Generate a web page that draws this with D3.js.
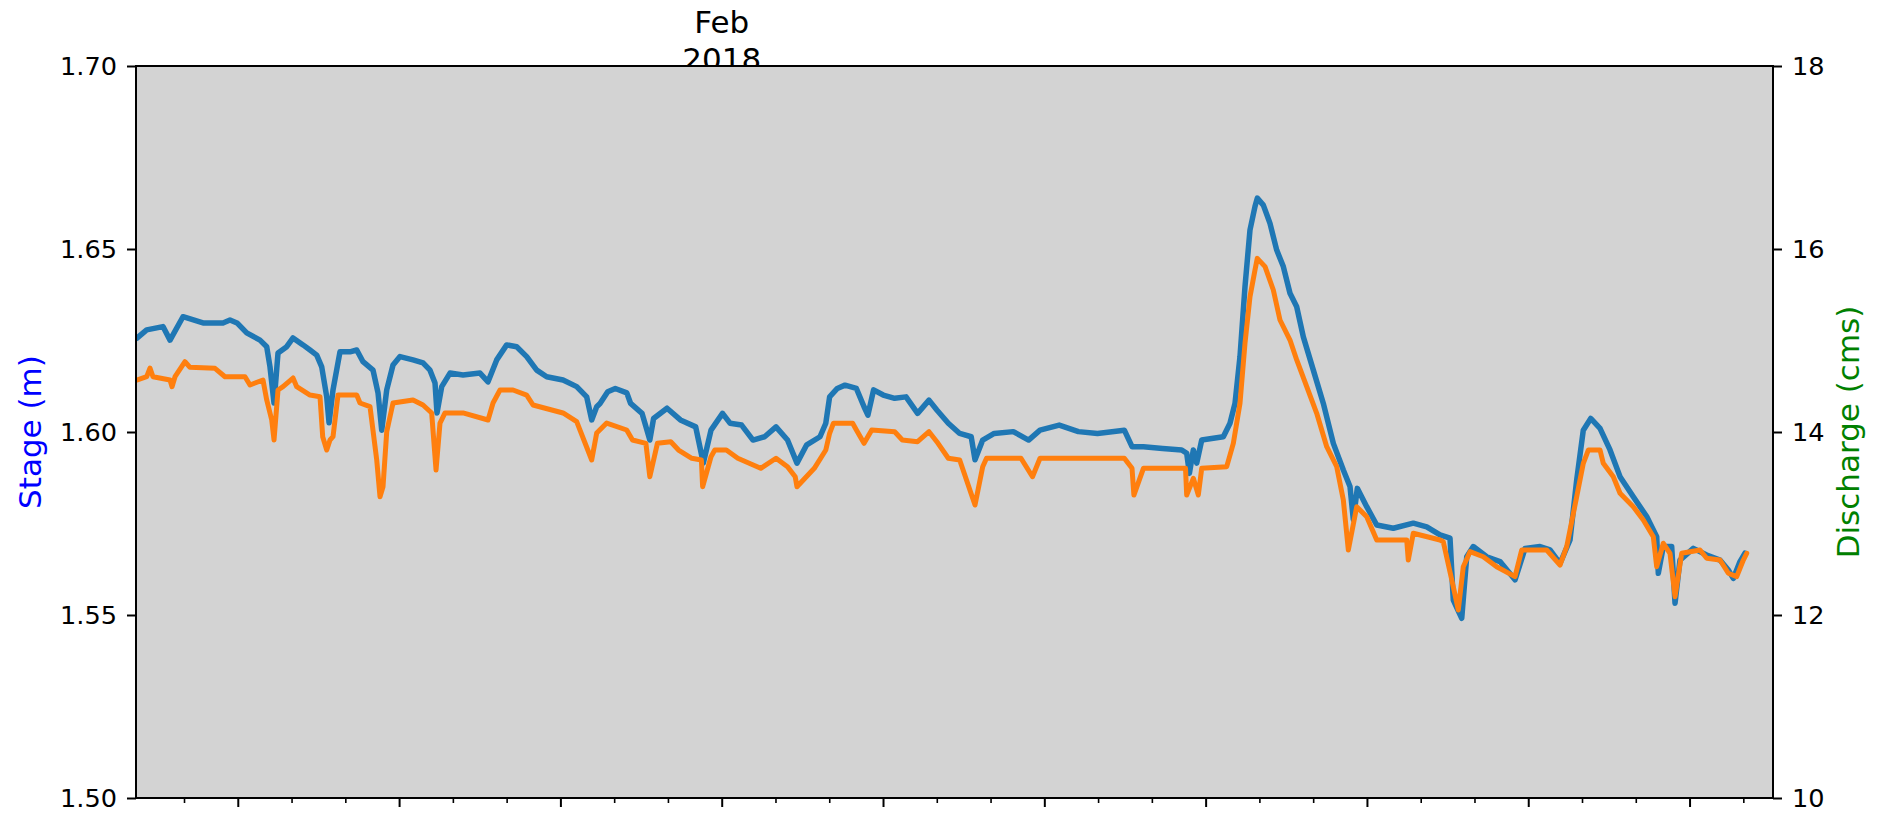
<!DOCTYPE html>
<html>
<head>
<meta charset="utf-8">
<script src="https://cdn.jsdelivr.net/npm/d3@7"></script>
<style>
  html, body { margin: 0; padding: 0; background: #ffffff; }
  svg { display: block; }
  text { font-family: "DejaVu Sans", sans-serif; }
</style>
</head>
<body>
<svg id="chart" width="1887" height="815"></svg>
<script>
// ---------------- DATA ----------------
// Time positions are expressed in days since 2018-01-21 00:00
const startDate = "2018-01-21T00:00:00";
const xDomainDays = [0.107, 30.552];

// Stage (m), left axis, blue
const stageDays = [0.120,0.306,0.609,0.740,0.981,1.353,1.725,1.855,1.986,2.166,2.413,2.538,2.599,2.674,2.748,2.910,3.027,3.213,3.343,3.468,3.561,3.654,3.697,3.771,3.901,4.087,4.212,4.329,4.515,4.608,4.677,4.770,4.887,5.017,5.259,5.445,5.575,5.668,5.705,5.793,5.947,6.189,6.505,6.654,6.815,7.001,7.187,7.373,7.559,7.745,8.049,8.303,8.489,8.582,8.675,8.737,8.880,9.021,9.235,9.306,9.518,9.663,9.733,9.983,10.232,10.516,10.658,10.801,11.015,11.154,11.370,11.582,11.798,12.010,12.224,12.400,12.581,12.828,12.936,13.007,13.150,13.293,13.505,13.647,13.719,13.825,14.004,14.217,14.428,14.643,14.855,15.001,15.214,15.426,15.640,15.711,15.854,16.068,16.423,16.708,16.920,17.277,17.634,17.989,18.488,18.631,18.843,19.200,19.555,19.648,19.698,19.771,19.834,19.927,20.143,20.329,20.453,20.546,20.639,20.732,20.825,20.918,20.961,21.073,21.197,21.322,21.445,21.569,21.694,21.817,22.003,22.189,22.375,22.561,22.685,22.747,22.821,22.996,23.182,23.490,23.862,24.112,24.359,24.545,24.606,24.763,24.856,24.978,25.228,25.475,25.754,25.940,26.219,26.405,26.591,26.777,26.901,27.024,27.162,27.335,27.521,27.707,27.954,28.203,28.389,28.419,28.512,28.668,28.730,28.822,29.070,29.319,29.566,29.721,29.814,29.938,30.031];
const stageValues = [1.6256,1.6279,1.6288,1.6251,1.6315,1.6298,1.6298,1.6306,1.6298,1.6271,1.6251,1.6233,1.6178,1.6079,1.6216,1.6233,1.6257,1.6238,1.6224,1.6210,1.6178,1.6096,1.6025,1.6115,1.6219,1.6219,1.6224,1.6192,1.6169,1.6107,1.6005,1.6115,1.6183,1.6206,1.6197,1.6189,1.6169,1.6134,1.6052,1.6124,1.6161,1.6156,1.6161,1.6137,1.6197,1.6238,1.6233,1.6206,1.6169,1.6151,1.6142,1.6124,1.6096,1.6033,1.6069,1.6078,1.6110,1.6119,1.6107,1.6078,1.6051,1.5978,1.6037,1.6065,1.6033,1.6014,1.5915,1.6005,1.6051,1.6024,1.6019,1.5978,1.5987,1.6014,1.5978,1.5915,1.5965,1.5987,1.6024,1.6096,1.6119,1.6128,1.6119,1.6069,1.6046,1.6115,1.6101,1.6092,1.6096,1.6051,1.6087,1.6060,1.6024,1.5996,1.5987,1.5924,1.5978,1.5996,1.6001,1.5978,1.6005,1.6019,1.6001,1.5996,1.6005,1.5960,1.5960,1.5955,1.5951,1.5942,1.5887,1.5951,1.5915,1.5978,1.5983,1.5987,1.6024,1.6078,1.6206,1.6397,1.6552,1.6616,1.6639,1.6620,1.6570,1.6497,1.6452,1.6379,1.6342,1.6260,1.6169,1.6078,1.5969,1.5896,1.5851,1.5760,1.5846,1.5796,1.5746,1.5737,1.5751,1.5741,1.5719,1.5710,1.5541,1.5491,1.5659,1.5687,1.5659,1.5646,1.5596,1.5682,1.5687,1.5678,1.5641,1.5705,1.5869,1.6005,1.6037,1.6010,1.5951,1.5878,1.5823,1.5769,1.5714,1.5614,1.5687,1.5687,1.5532,1.5650,1.5682,1.5664,1.5650,1.5623,1.5600,1.5646,1.5669];

// Discharge (cms), right axis, orange
const dischargeDays = [0.120,0.306,0.367,0.423,0.740,0.777,0.833,1.018,1.111,1.576,1.762,2.134,2.227,2.469,2.538,2.631,2.674,2.748,2.841,3.027,3.096,3.343,3.529,3.579,3.654,3.715,3.771,3.864,4.212,4.273,4.459,4.584,4.645,4.701,4.770,4.887,5.259,5.445,5.606,5.687,5.761,5.854,6.189,6.654,6.747,6.877,7.119,7.373,7.491,8.049,8.303,8.582,8.675,8.861,9.233,9.341,9.590,9.663,9.804,10.053,10.197,10.444,10.622,10.645,10.801,10.872,11.086,11.299,11.725,12.010,12.224,12.367,12.400,12.722,12.936,13.007,13.077,13.435,13.505,13.647,13.790,14.217,14.359,14.643,14.855,15.001,15.214,15.426,15.711,15.854,15.925,16.566,16.780,16.920,18.488,18.631,18.666,18.843,19.626,19.648,19.771,19.864,19.927,20.392,20.515,20.639,20.732,20.825,20.918,20.961,21.105,21.259,21.383,21.569,21.694,21.880,22.066,22.252,22.438,22.561,22.654,22.810,22.996,23.182,23.740,23.769,23.862,24.359,24.420,24.606,24.699,24.792,24.917,25.164,25.413,25.754,25.878,26.343,26.591,26.715,26.901,27.024,27.117,27.335,27.396,27.582,27.707,27.954,28.140,28.326,28.389,28.512,28.636,28.730,28.854,29.194,29.319,29.566,29.721,29.877,30.000,30.063];
const dischargeValues = [14.568,14.604,14.699,14.604,14.568,14.495,14.604,14.768,14.707,14.696,14.604,14.604,14.514,14.568,14.350,14.131,13.913,14.459,14.495,14.590,14.495,14.404,14.386,13.949,13.803,13.913,13.949,14.404,14.404,14.317,14.277,13.694,13.293,13.402,14.003,14.317,14.350,14.295,14.208,13.585,14.098,14.208,14.208,14.131,14.317,14.459,14.459,14.404,14.295,14.208,14.113,13.694,13.989,14.098,14.022,13.913,13.876,13.511,13.876,13.894,13.803,13.713,13.694,13.402,13.730,13.803,13.803,13.713,13.603,13.713,13.621,13.511,13.402,13.603,13.803,13.986,14.095,14.095,14.022,13.876,14.022,14.003,13.913,13.894,14.003,13.894,13.713,13.694,13.202,13.621,13.713,13.713,13.511,13.713,13.713,13.603,13.311,13.603,13.603,13.311,13.494,13.311,13.603,13.621,13.876,14.314,14.969,15.479,15.771,15.898,15.807,15.552,15.224,15.005,14.787,14.495,14.204,13.839,13.621,13.257,12.710,13.184,13.074,12.820,12.820,12.601,12.893,12.820,12.801,12.309,12.055,12.528,12.692,12.637,12.528,12.419,12.710,12.710,12.546,12.747,13.293,13.658,13.803,13.803,13.658,13.511,13.330,13.184,13.038,12.856,12.528,12.784,12.674,12.200,12.674,12.710,12.620,12.601,12.456,12.419,12.601,12.674];

// Axis ranges and tick labels
const stageDomain = [1.50, 1.70];
const stageTicks = [1.50, 1.55, 1.60, 1.65, 1.70];
const dischargeDomain = [10, 18];
const dischargeTicks = [10, 12, 14, 16, 18];
const majorTickDays = [2, 5, 8, 11, 14, 17, 20, 23, 26, 29];
const minorTickDays = [1,3,4,6,7,9,10,12,13,15,16,18,19,21,22,24,25,27,28,30];
const topLabelLines = ["Feb", "2018"];
const topLabelDay = 11;
const stageLabel = "Stage (m)";
const dischargeLabel = "Discharge (cms)";

// ---------------- DRAW ----------------
const svg = d3.select("#chart");
const M = { left: 136, right: 1773, top: 66, bottom: 798 };
const t0 = new Date(startDate).getTime();
const toDate = d => new Date(t0 + d * 864e5);

const x = d3.scaleTime().domain(xDomainDays.map(toDate)).range([M.left, M.right]);
const yL = d3.scaleLinear().domain(stageDomain).range([M.bottom, M.top]);
const yR = d3.scaleLinear().domain(dischargeDomain).range([M.bottom, M.top]);

// top date label (drawn first, partly hidden by the axes)
const topText = svg.append("text")
  .attr("x", x(toDate(topLabelDay)))
  .attr("y", 33)
  .attr("text-anchor", "middle")
  .attr("font-size", 31)
  .attr("fill", "#000");
topLabelLines.forEach((s, i) => {
  topText.append("tspan").attr("x", x(toDate(topLabelDay))).attr("dy", i === 0 ? 0 : 37).text(s);
});

// plot background
svg.append("rect")
  .attr("x", M.left).attr("y", M.top)
  .attr("width", M.right - M.left).attr("height", M.bottom - M.top)
  .attr("fill", "#d3d3d3");

svg.append("clipPath").attr("id", "clip")
  .append("rect")
  .attr("x", M.left).attr("y", M.top)
  .attr("width", M.right - M.left).attr("height", M.bottom - M.top);

const stageData = stageDays.map((d, i) => [toDate(d), stageValues[i]]);
const dischargeData = dischargeDays.map((d, i) => [toDate(d), dischargeValues[i]]);

const lineL = d3.line().x(d => x(d[0])).y(d => yL(d[1]));
const lineR = d3.line().x(d => x(d[0])).y(d => yR(d[1]));

const g = svg.append("g").attr("clip-path", "url(#clip)");
g.append("path").datum(stageData)
  .attr("d", lineL).attr("fill", "none")
  .attr("stroke", "#1f77b4").attr("stroke-width", 5.5)
  .attr("stroke-linejoin", "round").attr("stroke-linecap", "round");
g.append("path").datum(dischargeData)
  .attr("d", lineR).attr("fill", "none")
  .attr("stroke", "#ff7f0e").attr("stroke-width", 5)
  .attr("stroke-linejoin", "round").attr("stroke-linecap", "round");

// axes
function styleAxis(sel, w) {
  sel.select(".domain").remove();
  sel.selectAll(".tick line").attr("stroke", "#000").attr("stroke-width", w);
  sel.selectAll(".tick text").attr("font-family", "DejaVu Sans, sans-serif").attr("font-size", 25.6).attr("fill", "#000");
}

const axL = svg.append("g").attr("transform", `translate(${M.left},0)`)
  .call(d3.axisLeft(yL).tickValues(stageTicks).tickFormat(d3.format(".2f")).tickSize(9).tickPadding(10));
styleAxis(axL, 2);

const axR = svg.append("g").attr("transform", `translate(${M.right},0)`)
  .call(d3.axisRight(yR).tickValues(dischargeTicks).tickFormat(d3.format("d")).tickSize(9).tickPadding(10));
styleAxis(axR, 2);

const axMajor = svg.append("g").attr("transform", `translate(0,${M.bottom})`)
  .call(d3.axisBottom(x).tickValues(majorTickDays.map(toDate)).tickFormat("").tickSize(9));
styleAxis(axMajor, 2);
const axMinor = svg.append("g").attr("transform", `translate(0,${M.bottom})`)
  .call(d3.axisBottom(x).tickValues(minorTickDays.map(toDate)).tickFormat("").tickSize(5));
styleAxis(axMinor, 1.6);

// spines
svg.append("rect")
  .attr("x", M.left).attr("y", M.top)
  .attr("width", M.right - M.left).attr("height", M.bottom - M.top)
  .attr("fill", "none").attr("stroke", "#000").attr("stroke-width", 2);

// axis labels
svg.append("text")
  .attr("transform", `translate(41,${(M.top + M.bottom) / 2}) rotate(-90)`)
  .attr("text-anchor", "middle").attr("font-size", 31).attr("fill", "#0000ff")
  .text(stageLabel);
svg.append("text")
  .attr("transform", `translate(1859,${(M.top + M.bottom) / 2}) rotate(-90)`)
  .attr("text-anchor", "middle").attr("font-size", 31).attr("fill", "#008000")
  .text(dischargeLabel);
</script>
</body>
</html>
